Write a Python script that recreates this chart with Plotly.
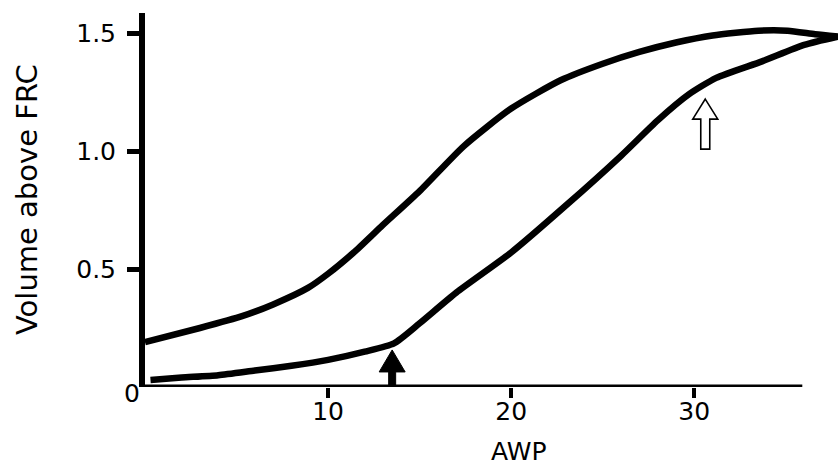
import plotly.graph_objects as go

# ---- data ----
upper_x = [0, 3, 5.3, 7, 8.9, 10, 11.4, 12.9, 15, 17.4, 20, 22.7, 25, 27, 29, 31, 33.5, 35.1, 36.6, 37.85]
upper_y = [0.19, 0.25, 0.30, 0.35, 0.42, 0.48, 0.57, 0.68, 0.83, 1.02, 1.18, 1.30, 1.37, 1.42, 1.46, 1.49, 1.51, 1.51, 1.495, 1.485]

lower_x = [0.3, 2, 4, 6, 8, 10, 12, 13.6, 15, 17, 20, 23, 26, 28, 29.7, 31.2, 33.7, 36, 37.85]
lower_y = [0.03, 0.04, 0.05, 0.07, 0.09, 0.115, 0.15, 0.185, 0.27, 0.40, 0.57, 0.77, 0.98, 1.13, 1.24, 1.31, 1.38, 1.45, 1.485]

x_ticks = [10, 20, 30]
x_ticklabels = ["10", "20", "30"]
y_ticks = [0.5, 1.0, 1.5]
y_ticklabels = ["0.5", "1.0", "1.5"]

arrow_filled_x = 13.5   # filled arrow (lower inflection)
arrow_open_x = 30.6     # open arrow (upper inflection)

x_title = "AWP"
y_title = "Volume above FRC"

# ---- layout geometry ----
W, H = 838, 465
ML, MR, MT, MB = 145, 0, 13, 78
XR = [0, 37.85]
YR = [0, 1.585]
px_x = (XR[1] - XR[0]) / (W - ML - MR)   # data units per pixel
px_y = (YR[1] - YR[0]) / (H - MT - MB)

FONT = "DejaVu Sans"
TICK_SIZE = 25

fig = go.Figure()
for xs, ys in [(upper_x, upper_y), (lower_x, lower_y)]:
    fig.add_trace(go.Scatter(x=xs, y=ys, mode="lines",
                             line=dict(color="black", width=6.5, shape="spline", smoothing=0.6),
                             showlegend=False, hoverinfo="skip", cliponaxis=False))


def arrow_path(xc, tip, total_px, head_w, head_h, shaft_w):
    """Upward arrow; geometry in pixels converted to data units."""
    hx = head_w / 2 * px_x
    sx = shaft_w / 2 * px_x
    hh = head_h * px_y
    tail = tip - total_px * px_y
    pts = [(xc, tip), (xc + hx, tip - hh), (xc + sx, tip - hh), (xc + sx, tail),
           (xc - sx, tail), (xc - sx, tip - hh), (xc - hx, tip - hh)]
    return "M " + " L ".join(f"{a},{b}" for a, b in pts) + " Z"


shapes = []
# x-axis line (stops short of the curve end)
shapes.append(dict(type="line", xref="x", yref="y", x0=-0.3, x1=35.9, y0=0, y1=0,
                   line=dict(color="black", width=5), layer="above"))
# filled arrow
shapes.append(dict(type="path", xref="x", yref="y",
                   path=arrow_path(arrow_filled_x, 0.157, 48, 26, 22, 7),
                   fillcolor="black", line=dict(color="black", width=1), layer="above"))
# open arrow
shapes.append(dict(type="path", xref="x", yref="y",
                   path=arrow_path(arrow_open_x, 1.22, 50, 25, 20, 9),
                   fillcolor="white", line=dict(color="black", width=1.6), layer="above"))

annotations = [
    dict(x=0, y=0, xref="x", yref="y", text="0", showarrow=False,
         xanchor="right", yanchor="middle", xshift=-3, yshift=-6,
         font=dict(family=FONT, size=TICK_SIZE, color="black")),
    dict(x=20.4, y=0, xref="x", yref="paper", text=x_title, showarrow=False,
         xanchor="center", yanchor="middle", yshift=-64,
         font=dict(family=FONT, size=25, color="black")),
    dict(x=0, y=0.5, xref="paper", yref="paper", text=y_title, showarrow=False,
         textangle=-90, xanchor="center", yanchor="middle", xshift=-118,
         font=dict(family=FONT, size=29, color="black")),
]

fig.update_layout(
    width=W, height=H,
    margin=dict(l=ML, r=MR, t=MT, b=MB, autoexpand=False),
    paper_bgcolor="white", plot_bgcolor="white",
    shapes=shapes, annotations=annotations,
    xaxis=dict(range=XR, showgrid=False, zeroline=False, showline=False,
               tickvals=x_ticks, ticktext=x_ticklabels, ticks="outside",
               ticklen=10, tickwidth=4, tickcolor="black", ticklabelstandoff=-8,
               tickfont=dict(family=FONT, size=TICK_SIZE, color="black")),
    yaxis=dict(range=YR, showgrid=False, zeroline=False, showline=True,
               linecolor="black", linewidth=6, mirror=False,
               tickvals=y_ticks, ticktext=y_ticklabels, ticks="outside",
               ticklen=12, tickwidth=5, tickcolor="black", ticklabelstandoff=6,
               tickfont=dict(family=FONT, size=TICK_SIZE, color="black")),
)

fig.write_html("out.html", config={"displayModeBar": False},
               post_script="document.body.style.margin='0';document.body.style.overflow='hidden';")
